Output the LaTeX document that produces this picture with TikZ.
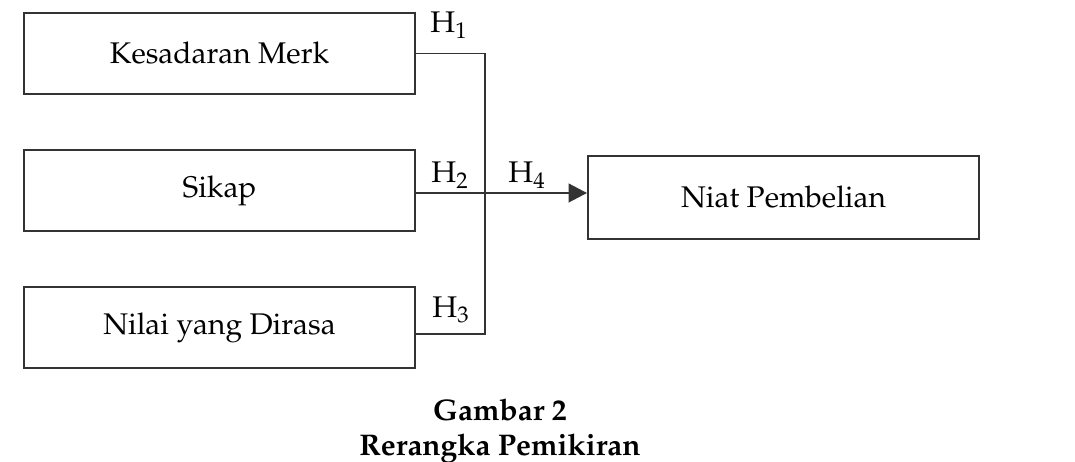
\documentclass[tikz,border=0pt]{standalone}
\usepackage[T1]{fontenc}
\usepackage{mathpazo}
\usetikzlibrary{arrows.meta}

\begin{document}
\begin{tikzpicture}[x=0.02cm,y=-0.02cm,
    varbox/.style={draw=black!80,line width=1.1pt,minimum width=7.82cm,
      minimum height=1.62cm,inner sep=0pt,font=\fontsize{17}{20}\selectfont},
    hlabel/.style={inner sep=0pt,font=\fontsize{17}{20}\selectfont},
    link/.style={draw=black!80,line width=1.1pt}]
  % Picture frame (pixels of the reference).
  \useasboundingbox (0,0) rectangle (1075,462);

  % Variables.
  \node[varbox] (kesadaran) at (219.5,53.5) {Kesadaran Merk};
  \node[varbox] (sikap) at (219.5,190.5) {Sikap};
  \node[varbox] (nilai) at (219.5,327.5) {Nilai yang Dirasa};
  \node[varbox,minimum height=1.66cm] (niat) at (783.5,197.5) {Niat Pembelian};

  % Joining lines.
  \coordinate (bot) at (485,334);
  \coordinate (mid) at (485,193);
  \draw[link] (kesadaran.east) -| (bot) -- (nilai.east |- bot);
  \draw[link,line width=1.6pt,-{Triangle[length=10.5pt,width=10.5pt]}]
    (sikap.east |- mid) -- (niat.west |- mid);

  % Hypotheses.
  \node[hlabel] (h1) at (449,25) {H\textsubscript{1}};
  \node[hlabel] (h2) at (450,175) {H\textsubscript{2}};
  \node[hlabel] (h3) at (451,310) {H\textsubscript{3}};
  \node[hlabel] (h4) at (527,175) {H\textsubscript{4}};

  % Caption.
  \node[font=\fontsize{17}{20}\selectfont\bfseries,align=center,inner sep=0pt]
    (caption) at (500,431) {Gambar 2\\Rerangka Pemikiran};
\end{tikzpicture}
\end{document}
